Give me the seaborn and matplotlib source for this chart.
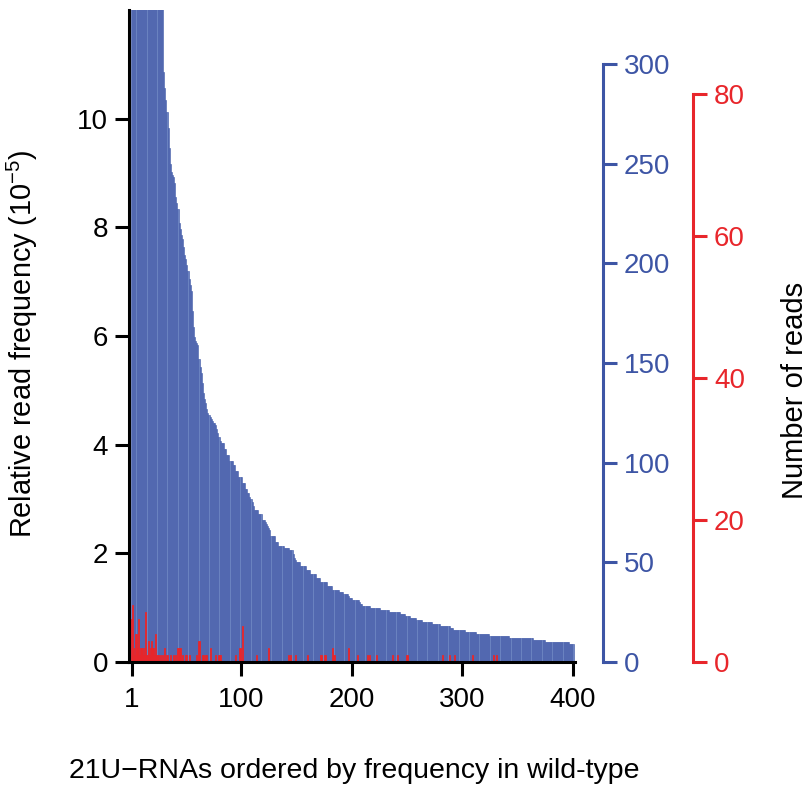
import numpy as np
import pandas as pd
import matplotlib
matplotlib.use("Agg")
import matplotlib.pyplot as plt
import seaborn as sns

# Wild-type read counts of the 400 most abundant 21U-RNAs, ranked by abundance
wt_reads = [
    1900, 1400, 1150, 980, 870, 790, 720, 660, 610, 570, 535, 505, 480, 458, 440, 424, 410, 398, 387, 377,
    368, 360, 353, 347, 342, 338, 334, 331, 329, 296, 288, 282, 276, 268, 258, 250, 246, 244, 243, 240,
    233, 230, 227, 220, 217, 214, 212, 208, 204, 202, 199, 196, 192, 189, 186, 176, 168, 163, 161, 160,
    159, 152, 148, 145, 140, 135, 132, 130, 127, 125, 124, 123, 122, 121, 120, 120, 119, 117, 115, 113,
    111, 110, 110, 110, 107, 107, 104, 104, 104, 101, 101, 101, 99, 99, 96, 96, 96, 93, 93, 93,
    90, 90, 90, 87, 87, 85, 85, 83, 82, 80, 78, 76, 76, 76, 76, 74, 74, 74, 71, 71,
    71, 70, 69, 68, 67, 66, 63, 63, 63, 63, 60, 60, 60, 58, 58, 58, 58, 58, 57, 57,
    57, 57, 57, 56, 56, 56, 54, 52, 51, 50, 50, 50, 50, 48, 48, 48, 48, 48, 46, 46,
    46, 46, 44, 44, 44, 44, 44, 42, 42, 42, 42, 40, 40, 40, 40, 40, 40, 38, 38, 38,
    38, 38, 36, 36, 36, 36, 36, 36, 35, 35, 35, 35, 34, 34, 34, 34, 33, 32, 32, 32,
    31, 31, 31, 31, 31, 31, 30, 29, 29, 28, 28, 28, 28, 28, 28, 28, 27, 27, 27, 27,
    27, 27, 27, 27, 27, 26, 26, 26, 26, 26, 26, 26, 26, 25, 25, 25, 25, 25, 25, 25,
    25, 25, 25, 24, 24, 24, 24, 24, 23, 23, 23, 23, 22, 22, 22, 22, 22, 22, 21, 21,
    21, 21, 21, 20, 20, 20, 20, 20, 20, 20, 20, 20, 19, 19, 19, 19, 19, 19, 19, 18,
    18, 18, 18, 18, 18, 18, 18, 18, 17, 17, 17, 16, 16, 16, 16, 16, 16, 16, 16, 16,
    16, 16, 15, 15, 15, 15, 15, 15, 15, 15, 15, 15, 14, 14, 14, 14, 14, 14, 14, 14,
    14, 14, 14, 14, 13, 13, 13, 13, 13, 13, 13, 13, 13, 13, 13, 13, 13, 13, 13, 13,
    13, 13, 12, 12, 12, 12, 12, 12, 12, 12, 12, 12, 12, 12, 12, 12, 12, 12, 12, 12,
    12, 12, 12, 11, 11, 11, 11, 11, 11, 11, 11, 11, 11, 11, 10, 10, 10, 10, 10, 10,
    10, 10, 10, 10, 10, 10, 10, 10, 10, 10, 10, 10, 10, 10, 10, 10, 9, 9, 9, 9,
]

# Mutant read counts for the same 21U-RNAs (ranks without reads are omitted)
mut_ranks = [1, 2, 3, 4, 5, 6, 7, 8, 9, 10, 11, 12, 13, 14, 15, 16, 17, 18, 19, 20,
             21, 22, 23, 24, 25, 27, 29, 31, 33, 36, 39, 41, 43, 44, 45, 47, 50, 51, 53, 60,
             62, 65, 66, 68, 69, 72, 77, 80, 81, 95, 99, 101, 114, 125, 143, 145, 149, 160, 172, 173,
             175, 176, 183, 184, 197, 205, 214, 216, 222, 237, 241, 250, 282, 288, 293, 309, 328, 331]
mut_reads = [6, 8, 2, 1, 4, 2, 6, 1, 2, 2, 2, 1, 2, 7, 1, 3, 1, 2, 3, 2,
             2, 1, 4, 1, 1, 1, 1, 2, 1, 1, 1, 1, 2, 2, 2, 1, 1, 1, 1, 1,
             3, 1, 1, 1, 1, 2, 1, 1, 1, 1, 2, 5, 1, 2, 1, 1, 1, 1, 1, 1,
             1, 1, 2, 1, 2, 1, 1, 1, 1, 1, 1, 1, 1, 1, 1, 1, 1, 1]

# Library sizes used to normalise counts to relative frequency
wt_library_size = 2.725e6
mut_library_size = 7.65e5

x_ticks = [1, 100, 200, 300, 400]
freq_ticks = [0, 2, 4, 6, 8, 10]
wt_count_ticks = [0, 50, 100, 150, 200, 250, 300]
mut_count_ticks = [0, 20, 40, 60, 80]

BLUE = "#3D55A5"
BLUE_FILL = "#6A82C0"
RED = "#E8262B"
FREQ_TOP = 12.0

sns.set_theme(style="white")
plt.rcParams["font.family"] = ["Liberation Sans", "DejaVu Sans"]
plt.rcParams["mathtext.fontset"] = "custom"
plt.rcParams["mathtext.rm"] = "Liberation Sans"
plt.rcParams["axes.unicode_minus"] = True
plt.rcParams["text.color"] = "black"
plt.rcParams["axes.labelcolor"] = "black"

assert len(wt_reads) == 400 and len(mut_ranks) == len(mut_reads)

wt = pd.DataFrame({"rank": np.arange(1, len(wt_reads) + 1),
                   "freq": np.asarray(wt_reads) / wt_library_size * 1e5})
mut = pd.DataFrame({"rank": mut_ranks,
                    "freq": np.asarray(mut_reads) / mut_library_size * 1e5})

fig = plt.figure(figsize=(8.10, 7.86), dpi=100)
ax = fig.add_axes([129 / 810, 124 / 786, 446 / 810, 652 / 786])

sns.barplot(data=wt, x="rank", y="freq", native_scale=True, width=1.0,
            color=BLUE_FILL, edgecolor=BLUE, linewidth=0.4, saturation=1,
            errorbar=None, ax=ax)
sns.barplot(data=mut, x="rank", y="freq", native_scale=True, width=1.0,
            color=RED, edgecolor=RED, linewidth=0.6, saturation=1,
            errorbar=None, ax=ax)

FS = 20
LW = 2.2

ax.set_xlim(-1.31, 401.8)
ax.set_ylim(0, FREQ_TOP)
ax.set_xticks(x_ticks)
ax.set_xticklabels([str(t) for t in x_ticks])
ax.set_yticks(freq_ticks)
ax.set_yticklabels([str(t) for t in freq_ticks])
for side in ("top", "right"):
    ax.spines[side].set_visible(False)
for side in ("left", "bottom"):
    ax.spines[side].set_linewidth(LW)
    ax.spines[side].set_color("black")
ax.tick_params(axis="both", direction="out", length=10, width=LW,
               color="black", labelsize=FS, labelcolor="black")
ax.tick_params(axis="y", pad=5, left=True)
ax.tick_params(axis="x", pad=8, bottom=True)
ax.set_xlabel("21U\u2212RNAs ordered by frequency in wild-type",
              fontsize=20.5, color="black")
ax.set_ylabel(r"Relative read frequency (10$^{\mathregular{-5}}$)",
              fontsize=20.8, color="black")
ax.xaxis.set_label_coords(0.505, -0.148)
ax.yaxis.set_label_coords(-0.2, 0.488)


def count_axis(host, top, ticks, color, offset):
    tw = host.twinx()
    tw.set_ylim(0, top)
    for side in ("top", "left", "bottom"):
        tw.spines[side].set_visible(False)
    sp = tw.spines["right"]
    sp.set_position(("outward", offset))
    sp.set_bounds(ticks[0], ticks[-1])
    sp.set_color(color)
    sp.set_linewidth(LW)
    tw.set_yticks(ticks)
    tw.set_yticklabels([str(t) for t in ticks])
    tw.tick_params(axis="y", direction="out", length=10, width=LW, color=color,
                   labelcolor=color, labelsize=FS, pad=5, right=True)
    tw.grid(False)
    return tw


ax_wt = count_axis(ax, FREQ_TOP * 1e-5 * wt_library_size, wt_count_ticks, BLUE, 20)
ax_mut = count_axis(ax, FREQ_TOP * 1e-5 * mut_library_size, mut_count_ticks, RED, 85)
ax_mut.set_ylabel("Number of reads", fontsize=21, color="black")
ax_mut.yaxis.set_label_coords(1.462, 0.416)

fig.savefig("out.png", dpi=100)
